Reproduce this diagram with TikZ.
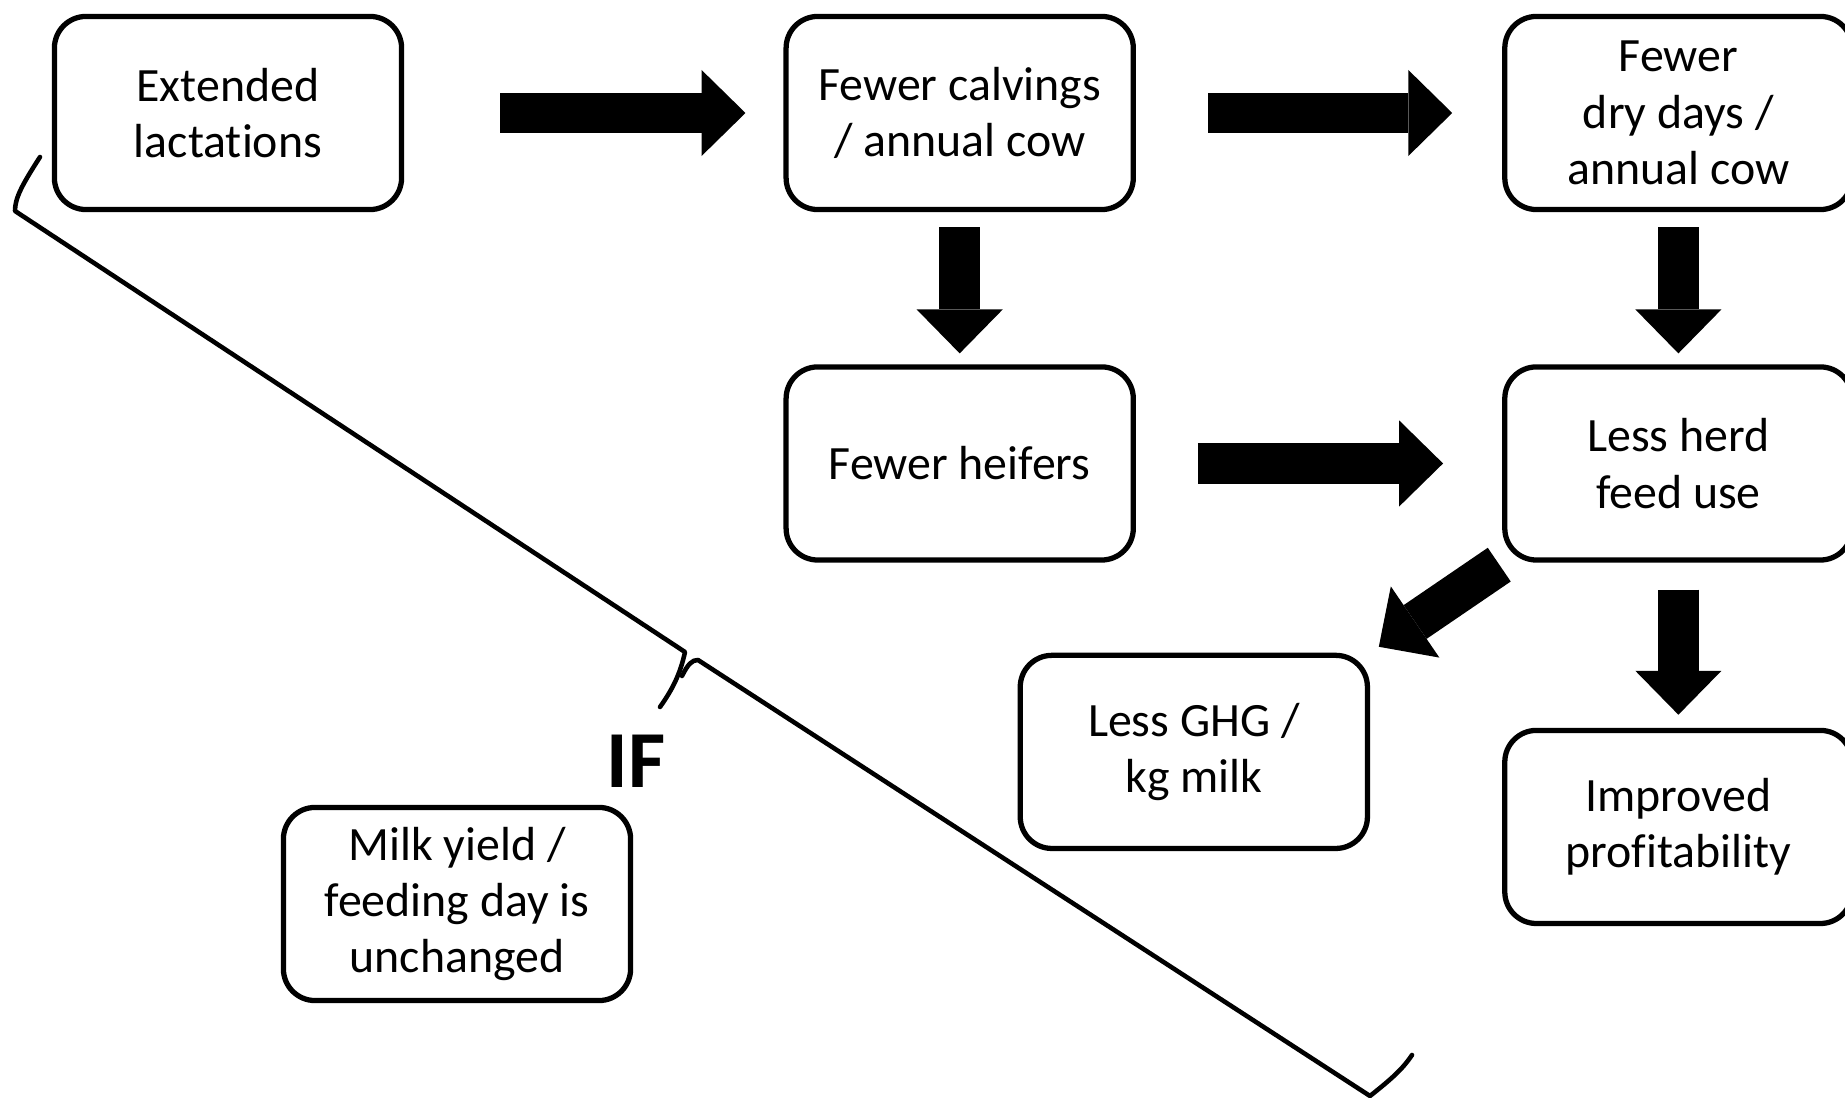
\documentclass[tikz,border=0pt]{standalone}
\usepackage{fontspec}
\setmainfont{Carlito}[Ligatures=NoCommon]
\usetikzlibrary{arrows.meta, positioning}
\tikzset{
  stage/.style={
      draw=black,
      rectangle,
      rounded corners=9pt,
      line width=1.5pt,
      minimum width=3.47cm,
      minimum height=1.93cm,
      align=center,
      font=\fontsize{13.6}{16}\selectfont
  },
  bigarrow/.style={
      line width=11.6pt,
      -{Triangle[length=12.5pt, width=24.5pt, line width=0pt]}
  },
  brace/.style={line width=1.3pt, line join=round, line cap=round}
}

\begin{document}
\begin{tikzpicture}[x=0.01cm, y=-0.01cm]
      \useasboundingbox (0,0) rectangle (1845,1098);
      % Top row
      \node (extended) [stage] at (228,113) {Extended\\lactations};
      \node (calvings) [stage, right=3.79cm of extended] {Fewer calvings\\/ annual cow};
      \node (drydays) [stage, right=3.66cm of calvings] {Fewer\\dry days /\\annual cow};
      
      % Second row
      \node (heifers) [stage, below=1.52cm of calvings] {Fewer heifers};
      \node (herdfeed) [stage, below=1.52cm of drydays] {Less herd\\feed use};
      
      % Outcomes
      \node (ghg) [stage, below left=0.9cm and 1.32cm of herdfeed] {Less GHG /\\kg milk};
      \node (profit) [stage, below=1.65cm of herdfeed] {Improved\\profitability};
      
      % Condition
      \node (milkyield) [stage] at (457,904) {Milk yield /\\feeding day is\\unchanged};
      \node (iflabel) [font=\fontsize{23}{26}\selectfont\bfseries] at (636,761) {IF};
      
      % Connections
      \draw[bigarrow, shorten <=27.3pt, shorten >=10.8pt] (extended) -- (calvings);
      \draw[bigarrow, shorten <=20.5pt, shorten >=14.2pt] (calvings) -- (drydays);
      \draw[bigarrow, shorten <=4.3pt, shorten >=3.1pt] (calvings) -- (heifers);
      \draw[bigarrow, shorten <=4.3pt, shorten >=3.1pt] (drydays) -- (herdfeed);
      \draw[bigarrow, shorten <=17.6pt, shorten >=16.8pt] (heifers) -- (herdfeed);
      \draw[bigarrow, shorten <=1pt, shorten >=3pt] (herdfeed.south west) -- (ghg.north east);
      \draw[bigarrow, shorten <=7.7pt, shorten >=3.7pt] (herdfeed) -- (profit);
      
      % Brace
      \draw[brace] (40,157) .. controls (22,185) and (15,198) .. (15,211)
        -- (685,652) .. controls (680,675) and (672,690) .. (660,707);
      \draw[brace] (682,676) .. controls (688,664) and (692,660) .. (698,660)
        -- (1370,1096) .. controls (1390,1080) and (1402,1070) .. (1412,1055);
\end{tikzpicture}
\end{document}
